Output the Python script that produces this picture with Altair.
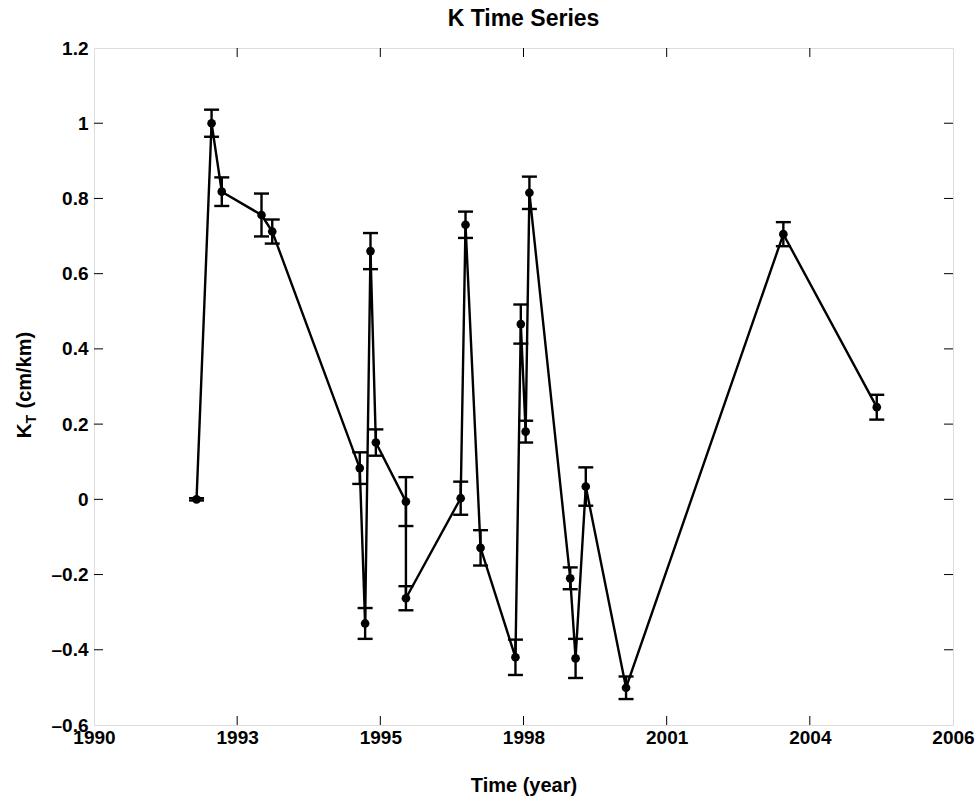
import altair as alt
import pandas as pd

# ---- data ----
years = [1991.91, 1992.19, 1992.38, 1993.12, 1993.32, 1994.95, 1995.05, 1995.15,
         1995.25, 1995.81, 1995.81, 1996.83, 1996.92, 1997.20, 1997.85, 1997.95,
         1998.04, 1998.11, 1998.87, 1998.97, 1999.16, 1999.91, 2002.84, 2004.58]
kt = [0.000, 1.000, 0.818, 0.756, 0.712, 0.083, -0.330, 0.660,
      0.151, -0.006, -0.263, 0.003, 0.730, -0.129, -0.420, 0.466,
      0.180, 0.815, -0.210, -0.423, 0.034, -0.501, 0.705, 0.245]
err = [0.003, 0.036, 0.038, 0.057, 0.032, 0.042, 0.041, 0.048,
       0.035, 0.065, 0.032, 0.044, 0.035, 0.047, 0.047, 0.052,
       0.029, 0.043, 0.029, 0.052, 0.051, 0.030, 0.032, 0.033]

x_tick_values = [1990.0, 1992.667, 1995.333, 1998.0, 2000.667, 2003.333, 2006.0]
x_tick_labels = ["1990", "1993", "1995", "1998", "2001", "2004", "2006"]
y_tick_values = [-0.6, -0.4, -0.2, 0.0, 0.2, 0.4, 0.6, 0.8, 1.0, 1.2]

W, H = 859, 677
FONT = "Liberation Sans"

df = pd.DataFrame({"year": years, "kt": kt, "err": err})
df["lo"] = df["kt"] - df["err"]
df["hi"] = df["kt"] + df["err"]
df["order"] = range(len(df))

# label expression for the x axis
expr = "''"
for v, lab in reversed(list(zip(x_tick_values, x_tick_labels))):
    expr = f"abs(datum.value - {v}) < 0.01 ? '{lab}' : ({expr})"

xscale = alt.Scale(domain=[1990, 2006], nice=False, zero=False)
yscale = alt.Scale(domain=[-0.6, 1.2], nice=False, zero=False)

xaxis = alt.Axis(values=x_tick_values, labelExpr=expr, ticks=False, domain=False,
                 grid=False, labelFont=FONT, labelFontSize=19, labelFontWeight="bold",
                 labelColor="black", labelPadding=3, labelFlush=False,
                 title="Time (year)", titleFont=FONT, titleFontSize=20,
                 titleFontWeight="bold", titleColor="black", titlePadding=28)
yaxis = alt.Axis(values=y_tick_values,
                 labelExpr="(datum.value < -0.0001 ? '\u2013' : '') + format(abs(datum.value), '~f')",
                 ticks=False, domain=False,
                 grid=False, labelFont=FONT, labelFontSize=19, labelFontWeight="bold",
                 labelColor="black", labelPadding=6, labelFlush=False, title=None)

base = alt.Chart(df)

line = base.mark_line(color="black", strokeWidth=2.4).encode(
    x=alt.X("year:Q", scale=xscale, axis=xaxis),
    y=alt.Y("kt:Q", scale=yscale, axis=yaxis),
    order="order:Q",
)
pts = base.mark_circle(color="black", opacity=1, size=75).encode(
    x=alt.X("year:Q", scale=xscale), y=alt.Y("kt:Q", scale=yscale))
ebar = base.mark_rule(color="black", strokeWidth=2.4).encode(
    x=alt.X("year:Q", scale=xscale), y=alt.Y("lo:Q", scale=yscale), y2="hi:Q")
cap_lo = base.mark_tick(color="black", orient="horizontal", size=15, thickness=2.4,
                        opacity=1).encode(
    x=alt.X("year:Q", scale=xscale), y=alt.Y("lo:Q", scale=yscale))
cap_hi = base.mark_tick(color="black", orient="horizontal", size=15, thickness=2.4,
                        opacity=1).encode(
    x=alt.X("year:Q", scale=xscale), y=alt.Y("hi:Q", scale=yscale))

# inward ticks on all four sides
xt = pd.DataFrame({"tv": x_tick_values[1:-1]})
yt = pd.DataFrame({"tv": y_tick_values[1:-1]})
tick_len = 9
xt_bottom = alt.Chart(xt).mark_rule(color="black", strokeWidth=1).encode(
    x=alt.X("tv:Q", scale=xscale), y=alt.value(H), y2=alt.value(H - tick_len))
xt_top = alt.Chart(xt).mark_rule(color="black", strokeWidth=1).encode(
    x=alt.X("tv:Q", scale=xscale), y=alt.value(0), y2=alt.value(tick_len))
yt_left = alt.Chart(yt).mark_rule(color="black", strokeWidth=1).encode(
    y=alt.Y("tv:Q", scale=yscale), x=alt.value(0), x2=alt.value(tick_len))
yt_right = alt.Chart(yt).mark_rule(color="black", strokeWidth=1).encode(
    y=alt.Y("tv:Q", scale=yscale), x=alt.value(W), x2=alt.value(W - tick_len))

# y-axis title with subscript T
lab = pd.DataFrame({"d": [0]})
y0 = H / 2 + 52
k_txt = alt.Chart(lab).mark_text(angle=270, align="left", baseline="middle",
                                 font=FONT, fontSize=21, fontWeight="bold",
                                 color="black").encode(
    text=alt.value("K"), x=alt.value(-69), y=alt.value(y0))
t_txt = alt.Chart(lab).mark_text(angle=270, align="left", baseline="middle",
                                 font=FONT, fontSize=14, fontWeight="bold",
                                 color="black").encode(
    text=alt.value("T"), x=alt.value(-62), y=alt.value(y0 - 15))
rest_txt = alt.Chart(lab).mark_text(angle=270, align="left", baseline="middle",
                                    font=FONT, fontSize=20, fontWeight="bold",
                                    color="black").encode(
    text=alt.value("(cm/km)"), x=alt.value(-69), y=alt.value(y0 - 15 - 9 - 6))

chart = alt.layer(
    xt_bottom, xt_top, yt_left, yt_right,
    line, ebar, cap_lo, cap_hi, pts,
    k_txt, t_txt, rest_txt,
).properties(
    width=W, height=H,
    title=alt.TitleParams("K Time Series", font=FONT, fontSize=23, fontWeight="bold",
                          color="black", anchor="middle", offset=8),
    autosize=alt.AutoSizeParams(type="none"),
    padding={"left": 94, "top": 48, "right": 24, "bottom": 76},
).configure_view(
    stroke="black", strokeWidth=1.2
).configure(background="white")

chart.save("out.html", embed_options={"renderer": "svg", "actions": False})
